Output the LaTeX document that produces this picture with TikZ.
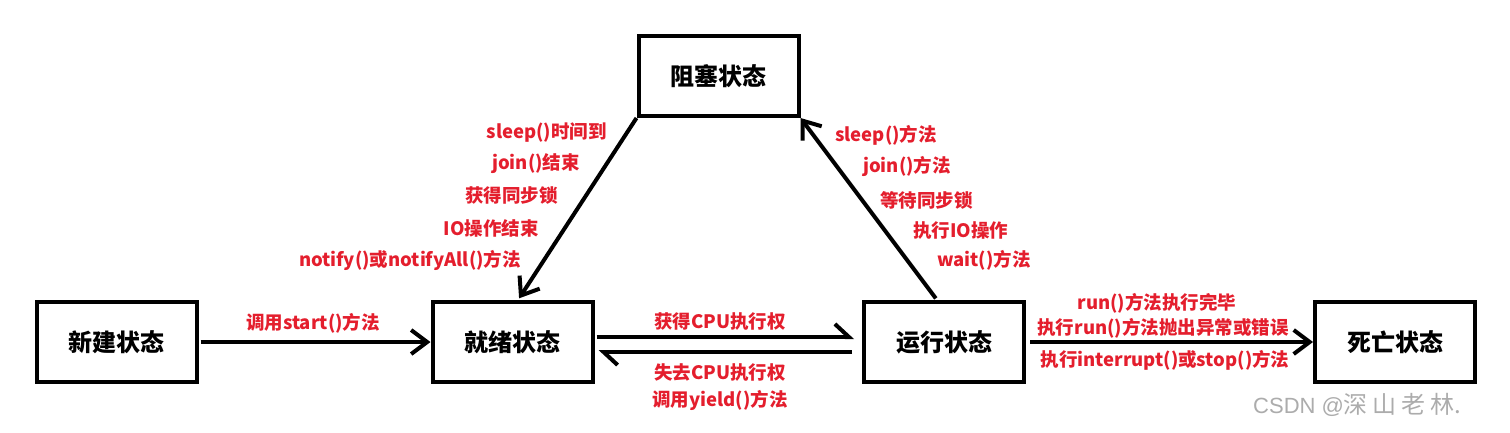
\documentclass[tikz,border=0pt]{standalone}
\usepackage{fontspec}
\setmainfont{Noto Sans CJK SC}
\newfontfamily\wmlat{Liberation Sans}
\newfontfamily\wmcjk{Noto Sans CJK SC}
\usetikzlibrary{arrows.meta}
\definecolor{lbl}{RGB}{228,30,45}
\definecolor{wm}{RGB}{172,172,172}
\begin{document}
\begin{tikzpicture}[x=1pt,y=1pt,
  box/.style={draw=black, line width=4pt, minimum width=160pt, minimum height=80pt, inner sep=0pt, fill=white, font=\fontsize{24}{24}\selectfont\bfseries},
  conn/.style={line width=4pt, -{Straight Barb[length=16pt,width=24pt]}},
  half/.style={line width=4pt, -{Straight Barb[harpoon,length=14pt,width=26pt]}},
  lab/.style={text=lbl, inner sep=0pt, font=\fontsize{18.5}{18.5}\selectfont\bfseries},
  wmark/.style={text=wm, inner sep=0pt, font=\fontsize{22}{22}\selectfont}]
\useasboundingbox (0,0) rectangle (1510,-432);
\fill[white] (0,0) rectangle (1510,-432);
% boxes
\node[box] (new)   at (116.5,-342) {新建状态};
\node[box] (ready) at (512.5,-342) {就绪状态};
\node[box] (block) at (718.5,-76)  {阻塞状态};
\node[box] (run)   at (944,-342)   {运行状态};
\node[box] (dead)  at (1395,-342)  {死亡状态};
% connectors
\draw[conn, shorten <=2pt] (new.east) -- (ready.west);
\draw[half, shorten <=2pt, shorten >=8pt] ([yshift=5pt]ready.east) -- ([yshift=5pt]run.west);
\draw[half, shorten <=10pt, shorten >=4pt] ([yshift=-10pt]run.west) -- ([yshift=-10pt]ready.east);
\draw[conn, shorten <=4pt] (run.east) -- (dead.west);
\draw[conn, shorten >=2pt] (block.south west) -- ([xshift=5.5pt]ready.north);
\draw[conn, shorten <=2pt] ([xshift=-7pt]run.north) -- (block.south east);
% labels
\node[lab] (l1) at (313,-323) {调用start()方法};
\node[lab] (l2) at (720,-322) {获得CPU执行权};
\node[lab] (l3) at (720,-373) {失去CPU执行权};
\node[lab] (l4) at (720,-400) {调用yield()方法};
\node[lab] (l5) at (1157,-303) {run()方法执行完毕};
\node[lab] (l6) at (1163,-328) {执行run()方法抛出异常或错误};
\node[lab] (l7) at (1165,-360) {执行interrupt()或stop()方法};
\node[lab, anchor=east] (a1) at (607,-133) {sleep()时间到};
\node[lab, anchor=east] (a2) at (580,-164) {join()结束};
\node[lab, anchor=east] (a3) at (558,-196) {获得同步锁};
\node[lab, anchor=east] (a4) at (539,-228) {IO操作结束};
\node[lab, anchor=east] (a5) at (521,-260) {notify()或notifyAll()方法};
\node[lab, anchor=west] (b1) at (835,-135) {sleep()方法};
\node[lab, anchor=west] (b2) at (863,-166) {join()方法};
\node[lab, anchor=west] (b3) at (880,-200) {等待同步锁};
\node[lab, anchor=west] (b4) at (913,-231) {执行IO操作};
\node[lab, anchor=west] (b5) at (937,-260) {wait()方法};
\node[wmark, anchor=west] (wmk) at (1253,-405) {{\wmlat CSDN @}{\wmcjk\fontsize{24}{24}\selectfont 深\hspace{5pt}山\hspace{5pt}老\hspace{5pt}林.}};
\end{tikzpicture}
\end{document}
